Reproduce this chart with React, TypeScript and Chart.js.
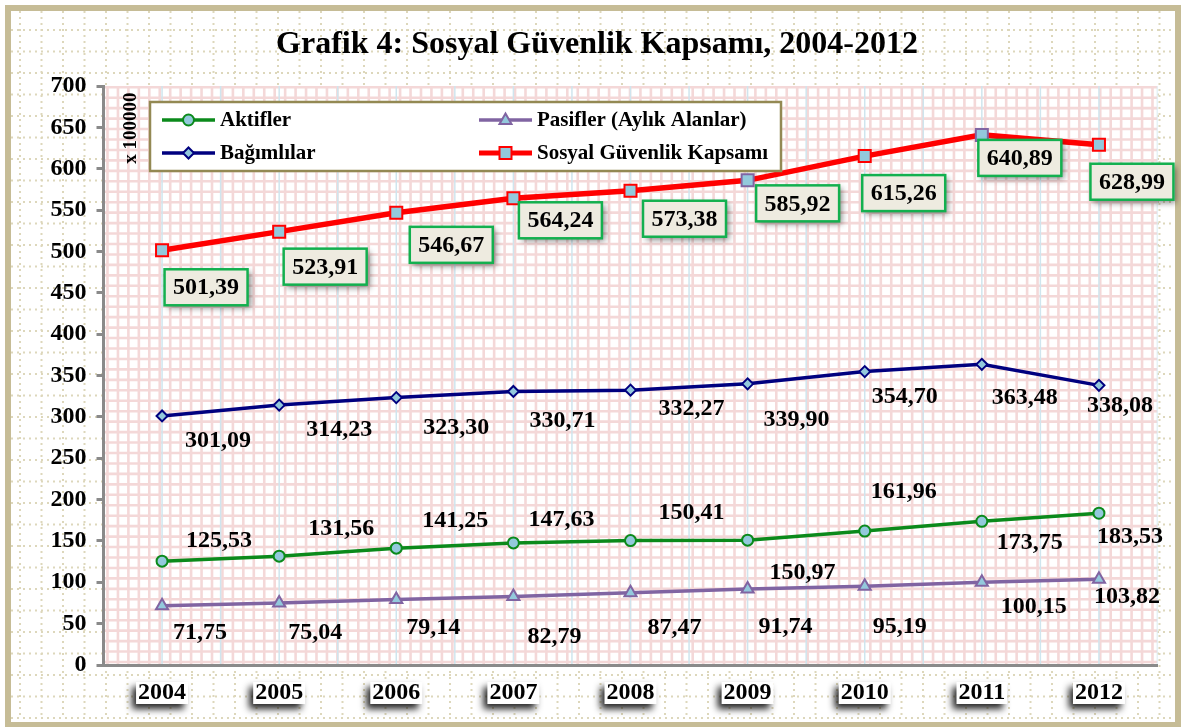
import React, { useEffect, useRef } from "react";
import { Chart, registerables } from "chart.js";

Chart.register(...registerables);

const years = ["2004", "2005", "2006", "2007", "2008", "2009", "2010", "2011", "2012"];
const aktifler = [125.53, 131.56, 141.25, 147.63, 150.41, 150.97, 161.96, 173.75, 183.53];
const pasifler = [71.75, 75.04, 79.14, 82.79, 87.47, 91.74, 95.19, 100.15, 103.82];
const bagimlilar = [301.09, 314.23, 323.3, 330.71, 332.27, 339.9, 354.7, 363.48, 338.08];
const kapsam = [501.39, 523.91, 546.67, 564.24, 573.38, 585.92, 615.26, 640.89, 628.99];

const seriesNames = ["Aktifler", "Pasifler (Aylık Alanlar)", "Bağımlılar", "Sosyal Güvenlik Kapsamı"];
const titleText = "Grafik 4: Sosyal Güvenlik Kapsamı, 2004-2012";
const yUnitText = "x 100000";

// label placement offsets (pixels from the point), per series
const aktiflerLabelOffset = [[57, -20], [62, -27], [59, -27], [48, -23], [61, -28], [55, 33], [39, -39], [48, 22], [31, 24]];
const pasiflerLabelOffset = [[38, 27], [36, 30], [37, 28], [41, 40], [44, 35], [38, 38], [35, 41], [52, 25], [28, 18]];
const bagimlilarLabelOffset = [[56, 25], [60, 25], [60, 30], [49, 29], [61, 19], [49, 36], [40, 25], [43, 33], [21, 20]];
const kapsamLabelOffset = [[44, 37], [46, 35], [55, 32], [47, 22], [54, 28], [50, 23], [39, 37], [38, 23], [33, 37]];

const FONT = "'Liberation Serif', 'Times New Roman', serif";
const fmt = (v: number) => v.toFixed(2).replace(".", ",");

const MARKER_FILL = "#93c9dc";
const C_GREEN = "#0b8a1b";
const C_PURPLE = "#8064a2";
const C_NAVY = "#00007f";
const C_RED = "#ff0000";

function drawMarker(ctx: CanvasRenderingContext2D, kind: string, x: number, y: number, stroke: string) {
  ctx.save();
  ctx.fillStyle = MARKER_FILL;
  ctx.strokeStyle = stroke;
  ctx.lineWidth = 2;
  ctx.beginPath();
  if (kind === "circle") {
    ctx.arc(x, y, 5.5, 0, Math.PI * 2);
  } else if (kind === "diamond") {
    ctx.moveTo(x, y - 5.5);
    ctx.lineTo(x + 5.5, y);
    ctx.lineTo(x, y + 5.5);
    ctx.lineTo(x - 5.5, y);
    ctx.closePath();
  } else if (kind === "triangle") {
    ctx.moveTo(x, y - 6.5);
    ctx.lineTo(x + 6, y + 4);
    ctx.lineTo(x - 6, y + 4);
    ctx.closePath();
  } else {
    ctx.rect(x - 6, y - 6, 12, 12);
  }
  ctx.fill();
  ctx.stroke();
  ctx.restore();
}

const backgroundPlugin = {
  id: "bgPlugin",
  beforeDraw(chart: any) {
    const { ctx, width, height, chartArea } = chart;
    ctx.save();
    ctx.fillStyle = "#ffffff";
    ctx.fillRect(0, 0, width, height);
    // dotted page grid
    ctx.strokeStyle = "#ddd7bb";
    ctx.lineWidth = 2;
    ctx.setLineDash([2, 4]);
    for (let x = 20; x < width - 6; x += 21.5) {
      ctx.beginPath();
      ctx.moveTo(x, 11);
      ctx.lineTo(x, height - 8);
      ctx.stroke();
    }
    for (let y = 30; y < height - 6; y += 21.5) {
      ctx.beginPath();
      ctx.moveTo(11, y);
      ctx.lineTo(width - 6, y);
      ctx.stroke();
    }
    ctx.setLineDash([]);
    // outer frame
    ctx.strokeStyle = "#c6bc96";
    ctx.lineWidth = 6;
    ctx.strokeRect(8, 8, width - 11, height - 10);

    // plot area
    const { left, right, top, bottom } = chartArea;
    ctx.fillStyle = "#ffffff";
    ctx.fillRect(left, top, right - left, bottom - top);
    ctx.save();
    ctx.beginPath();
    ctx.rect(left, top, right - left, bottom - top);
    ctx.clip();
    ctx.strokeStyle = "#f4d8d8";
    ctx.lineWidth = 2.6;
    const step = 10.45;
    for (let x = left + 4; x < right; x += step) {
      ctx.beginPath();
      ctx.moveTo(x, top);
      ctx.lineTo(x, bottom);
      ctx.stroke();
    }
    for (let y = bottom - 3; y > top; y -= step) {
      ctx.beginPath();
      ctx.moveTo(left, y);
      ctx.lineTo(right, y);
      ctx.stroke();
    }
    // light blue vertical guides
    const xs = chart.scales.x;
    const half = (xs.getPixelForValue(1) - xs.getPixelForValue(0)) / 2;
    ctx.strokeStyle = "#cfe5ee";
    ctx.lineWidth = 1.5;
    for (let i = 0; i < years.length; i++) {
      const px = xs.getPixelForValue(i);
      [px, px + half].forEach((gx) => {
        ctx.beginPath();
        ctx.moveTo(gx, top);
        ctx.lineTo(gx, bottom);
        ctx.stroke();
      });
    }
    ctx.restore();
    ctx.restore();
  },
};

const overlayPlugin = {
  id: "overlayPlugin",
  afterDatasetsDraw(chart: any) {
    const { ctx } = chart;
    const xs = chart.scales.x;
    const ys = chart.scales.y;
    ctx.save();
    ctx.textAlign = "center";
    ctx.textBaseline = "middle";

    // plain value labels
    const plain: [number[], number[][]][] = [
      [aktifler, aktiflerLabelOffset],
      [pasifler, pasiflerLabelOffset],
      [bagimlilar, bagimlilarLabelOffset],
    ];
    ctx.font = `bold 24px ${FONT}`;
    ctx.fillStyle = "#000000";
    plain.forEach(([vals, offs]) => {
      vals.forEach((v, i) => {
        const px = xs.getPixelForValue(i);
        const py = ys.getPixelForValue(v);
        ctx.fillText(fmt(v), px + offs[i][0], py + offs[i][1]);
      });
    });

    // boxed labels for total coverage
    kapsam.forEach((v, i) => {
      const px = xs.getPixelForValue(i) + kapsamLabelOffset[i][0];
      const py = ys.getPixelForValue(v) + kapsamLabelOffset[i][1];
      const w = 83;
      const h = 36;
      ctx.save();
      ctx.shadowColor = "rgba(0,0,0,0.45)";
      ctx.shadowBlur = 6;
      ctx.shadowOffsetX = 3;
      ctx.shadowOffsetY = 3;
      ctx.fillStyle = "#eeebe0";
      ctx.fillRect(px - w / 2, py - h / 2, w, h);
      ctx.restore();
      ctx.strokeStyle = "#13b04f";
      ctx.lineWidth = 2.5;
      ctx.strokeRect(px - w / 2, py - h / 2, w, h);
      ctx.fillStyle = "#000000";
      ctx.fillText(fmt(v), px, py + 1);
    });

    // x labels with shadow boxes
    years.forEach((yr, i) => {
      const px = xs.getPixelForValue(i);
      const py = 693;
      const tw = ctx.measureText(yr).width;
      ctx.save();
      ctx.shadowColor = "rgba(0,0,0,0.85)";
      ctx.shadowBlur = 7;
      ctx.shadowOffsetX = -4;
      ctx.shadowOffsetY = 5;
      ctx.fillStyle = "#ffffff";
      ctx.fillRect(px - tw / 2 - 2, py - 11, tw + 4, 22);
      ctx.restore();
      ctx.fillStyle = "#000000";
      ctx.fillText(yr, px, py);
    });

    // y unit
    ctx.save();
    ctx.translate(131, 128);
    ctx.rotate(-Math.PI / 2);
    ctx.font = `bold 19px ${FONT}`;
    ctx.fillText(yUnitText, 0, 0);
    ctx.restore();

    // title
    ctx.font = `bold 32px ${FONT}`;
    ctx.fillText(titleText, 597, 45);

    // legend
    const lx = 150, ly = 102, lw = 631, lh = 69;
    ctx.fillStyle = "#ffffff";
    ctx.fillRect(lx, ly, lw, lh);
    ctx.strokeStyle = "#938953";
    ctx.lineWidth = 2.5;
    ctx.strokeRect(lx, ly, lw, lh);
    const items = [
      { name: seriesNames[0], color: C_GREEN, kind: "circle", x: 162, y: 120, lw: 3.5 },
      { name: seriesNames[1], color: C_PURPLE, kind: "triangle", x: 479, y: 120, lw: 3.5 },
      { name: seriesNames[2], color: C_NAVY, kind: "diamond", x: 162, y: 153, lw: 3.5 },
      { name: seriesNames[3], color: C_RED, kind: "rect", x: 479, y: 153, lw: 5 },
    ];
    ctx.font = `bold 21px ${FONT}`;
    ctx.textAlign = "left";
    items.forEach((it) => {
      ctx.strokeStyle = it.color;
      ctx.lineWidth = it.lw;
      ctx.beginPath();
      ctx.moveTo(it.x, it.y);
      ctx.lineTo(it.x + 53, it.y);
      ctx.stroke();
      drawMarker(ctx, it.kind, it.x + 26.5, it.y, it.color);
      ctx.fillStyle = "#000000";
      ctx.fillText(it.name, it.x + 58, it.y + 1);
    });
    ctx.restore();
  },
};

export default function App() {
  const canvasRef = useRef<HTMLCanvasElement | null>(null);

  useEffect(() => {
    document.body.style.margin = "0";
    const canvas = canvasRef.current;
    if (!canvas) return;
    const commonPoint = { pointBackgroundColor: MARKER_FILL, pointBorderWidth: 2 };
    const chart = new Chart(canvas, {
      type: "line",
      data: {
        labels: years,
        datasets: [
          {
            label: seriesNames[3],
            data: kapsam,
            borderColor: C_RED,
            borderWidth: 5.5,
            pointStyle: "rect",
            pointRadius: 8.5,
            pointBorderColor: kapsam.map((_, i) => (i === 5 || i === 7 ? C_PURPLE : C_RED)),
            ...commonPoint,
          },
          {
            label: seriesNames[2],
            data: bagimlilar,
            borderColor: C_NAVY,
            borderWidth: 3.5,
            pointStyle: "rectRot",
            pointRadius: 5.5,
            pointBorderColor: C_NAVY,
            ...commonPoint,
          },
          {
            label: seriesNames[0],
            data: aktifler,
            borderColor: C_GREEN,
            borderWidth: 3.5,
            pointStyle: "circle",
            pointRadius: 5.5,
            pointBorderColor: C_GREEN,
            ...commonPoint,
          },
          {
            label: seriesNames[1],
            data: pasifler,
            borderColor: C_PURPLE,
            borderWidth: 3.5,
            pointStyle: "triangle",
            pointRadius: 7,
            pointBorderColor: C_PURPLE,
            ...commonPoint,
          },
        ],
      },
      options: {
        responsive: false,
        animation: false,
        devicePixelRatio: 1,
        layout: { padding: { left: 10, right: 23.5, top: 86, bottom: 10 } },
        plugins: {
          legend: { display: false },
          title: { display: false },
          tooltip: { enabled: false },
        },
        scales: {
          x: {
            type: "category",
            offset: true,
            grid: { display: false },
            border: { display: true, color: "#8a8a8a", width: 3 },
            ticks: { display: false },
            afterFit: (s: any) => {
              s.height = 52;
            },
          },
          y: {
            min: 0,
            max: 700,
            ticks: {
              stepSize: 50,
              color: "#000000",
              font: { family: FONT, size: 24, weight: "bold" },
              padding: 10,
            },
            grid: {
              drawOnChartArea: false,
              drawTicks: true,
              tickLength: 7,
              color: "#8a8a8a",
              lineWidth: 3,
            },
            border: { display: true, color: "#8a8a8a", width: 3 },
            afterFit: (s: any) => {
              s.width = 93.5;
            },
          },
        },
      } as any,
      plugins: [backgroundPlugin, overlayPlugin],
    });
    return () => chart.destroy();
  }, []);

  return <canvas ref={canvasRef} width={1181} height={727} style={{ display: "block", width: 1181, height: 727 }} />;
}
